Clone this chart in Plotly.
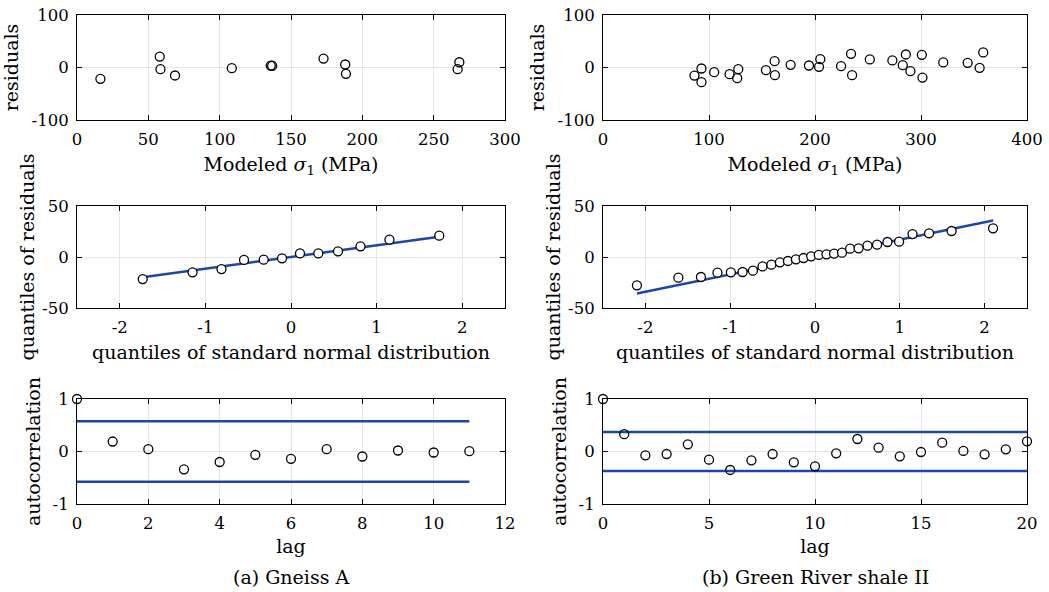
import plotly.graph_objects as go

FONT = "DejaVu Serif"
BLUE = "#1a47a8"

# ---------------- (a) Gneiss A ----------------
res_a_x = [16.4, 58.0, 58.5, 68.7, 108.5, 135.8, 136.8, 172.8, 188.0, 188.5, 266.8, 268.0]
res_a_y = [-21.5, 20.9, -3.2, -15.2, -1.3, 3.6, 3.3, 17.0, 5.7, -12.0, -3.2, 10.0]
qq_a_x = [-1.732, -1.150, -0.812, -0.549, -0.319, -0.105, 0.105, 0.319, 0.549, 0.812, 1.150, 1.732]
qq_a_y = [-21.6, -15.0, -11.8, -2.9, -2.6, -1.3, 3.6, 3.6, 5.6, 10.5, 17.0, 20.9]
qq_line_a_x = [-1.732, 1.732]
qq_line_a_y = [-19.8, 19.8]
lags_a = [0, 1, 2, 3, 4, 5, 6, 7, 8, 9, 10, 11]
acf_a = [1.0, 0.19, 0.044, -0.34, -0.20, -0.063, -0.14, 0.044, -0.095, 0.019, -0.019, 0.006]
acf_bound_a = 0.577

# ---------------- (b) Green River shale II ----------------
res_b_x = [86.3, 92.9, 92.9, 104.9, 119.4, 126.6, 127.6, 153.7, 161.9, 162.2, 177.0, 194.3, 203.8, 205.0,
           224.6, 234.0, 235.0, 251.7, 273.0, 282.8, 285.7, 290.0, 300.8, 301.4, 321.0, 344.0, 355.3, 358.7]
res_b_y = [-15.3, -1.9, -28.0, -8.9, -12.7, -20.4, -3.2, -5.1, 12.1, -14.6, 5.1, 3.8, 1.3, 15.9,
           2.5, 26.1, -14.6, 15.3, 13.4, 4.5, 24.8, -7.0, 24.2, -19.1, 9.6, 8.9, -0.6, 28.7]
qq_b_x = [-2.100, -1.611, -1.345, -1.150, -0.992, -0.854, -0.732, -0.619, -0.514, -0.414, -0.319, -0.225, -0.135, -0.045,
          0.045, 0.135, 0.225, 0.319, 0.414, 0.514, 0.619, 0.732, 0.854, 0.992, 1.150, 1.345, 1.611, 2.100]
qq_b_y = [-27.8, -20.3, -19.6, -15.4, -15.0, -14.7, -13.4, -9.2, -7.5, -5.2, -3.9, -2.3, -1.0, 0.7,
          2.0, 2.6, 3.3, 4.2, 8.2, 8.5, 11.1, 12.1, 14.7, 15.0, 22.5, 23.2, 25.5, 28.1]
qq_line_b_x = [-2.1, 2.1]
qq_line_b_y = [-35.8, 35.8]
lags_b = [0, 1, 2, 3, 4, 5, 6, 7, 8, 9, 10, 11, 12, 13, 14, 15, 16, 17, 18, 19, 20]
acf_b = [1.0, 0.33, -0.073, -0.048, 0.137, -0.156, -0.352, -0.168, -0.048, -0.206, -0.283,
         -0.035, 0.238, 0.073, -0.092, -0.01, 0.168, 0.01, -0.054, 0.041, 0.194]
acf_bound_b = 0.372

# tick definitions
res_a_xticks = [0, 50, 100, 150, 200, 250, 300]
res_b_xticks = [0, 100, 200, 300, 400]
res_yticks = [-100, 0, 100]
qq_xticks = [-2, -1, 0, 1, 2]
qq_yticks = [-50, 0, 50]
acf_a_xticks = [0, 2, 4, 6, 8, 10, 12]
acf_b_xticks = [0, 5, 10, 15, 20]
acf_yticks = [-1, 0, 1]

captions = ["(a) Gneiss A", "(b) Green River shale II"]

W, H = 1049, 592
TICK_SIZE = 16.5
TITLE_SIZE = 19

def px_x(a, b):
    return [a / W, b / W]
def px_y(top, bottom):
    return [(H - bottom) / H, (H - top) / H]

col_x = [px_x(77, 505), px_x(603, 1027)]
row_y = [px_y(15, 120), px_y(206, 308), px_y(399, 504)]

fig = go.Figure()

def marker(fill=False):
    return dict(symbol="circle" if fill else "circle-open", size=9,
                color="white" if fill else "black",
                line=dict(color="black", width=1.3))

fig.add_trace(go.Scatter(x=res_a_x, y=res_a_y, mode="markers", marker=marker(), xaxis="x", yaxis="y", cliponaxis=False))
fig.add_trace(go.Scatter(x=res_b_x, y=res_b_y, mode="markers", marker=marker(), xaxis="x2", yaxis="y2", cliponaxis=False))

fig.add_trace(go.Scatter(x=qq_line_a_x, y=qq_line_a_y, mode="lines", line=dict(color=BLUE, width=2.5), xaxis="x3", yaxis="y3"))
fig.add_trace(go.Scatter(x=qq_a_x, y=qq_a_y, mode="markers", marker=marker(True), xaxis="x3", yaxis="y3", cliponaxis=False))
fig.add_trace(go.Scatter(x=qq_line_b_x, y=qq_line_b_y, mode="lines", line=dict(color=BLUE, width=2.5), xaxis="x4", yaxis="y4"))
fig.add_trace(go.Scatter(x=qq_b_x, y=qq_b_y, mode="markers", marker=marker(True), xaxis="x4", yaxis="y4", cliponaxis=False))

for lags, acf, bound, xa, ya in [(lags_a, acf_a, acf_bound_a, "x5", "y5"), (lags_b, acf_b, acf_bound_b, "x6", "y6")]:
    for s in (1, -1):
        fig.add_trace(go.Scatter(x=[lags[0], lags[-1]], y=[s * bound, s * bound], mode="lines",
                                 line=dict(color=BLUE, width=2.5), xaxis=xa, yaxis=ya))
    fig.add_trace(go.Scatter(x=lags, y=acf, mode="markers", marker=marker(), xaxis=xa, yaxis=ya, cliponaxis=False))

def tick_text(vals):
    return [str(v) for v in vals]

def axis(domain, anchor, rng, ticks, title=None, standoff=None, ls=None):
    d = dict(domain=domain, anchor=anchor, range=rng, tickvals=ticks, ticktext=tick_text(ticks),
             showline=True, linecolor="black", linewidth=1, mirror="ticks",
             ticks="inside", ticklen=5, tickcolor="black", tickwidth=1,
             showgrid=True, gridcolor="#e6e6e6", gridwidth=1, zeroline=False, automargin=False,
             tickfont=dict(family=FONT, size=TICK_SIZE, color="black"))
    if ls is not None:
        d["ticklabelstandoff"] = ls
    if title:
        d["title"] = dict(text=title, font=dict(family=FONT, size=TITLE_SIZE, color="black"), standoff=standoff)
    return d

sig = "Modeled <i>σ</i><sub>1</sub> (MPa)"
qqx = "quantiles of standard normal distribution"

fig.update_layout(
    width=W, height=H, margin=dict(l=0, r=0, t=0, b=0, autoexpand=False),
    paper_bgcolor="white", plot_bgcolor="white", showlegend=False,
    font=dict(family=FONT, color="black"),
    xaxis=axis(col_x[0], "y", [0, 300], res_a_xticks, sig, 9, 4),
    yaxis=axis(row_y[0], "x", [-100, 100], res_yticks, "residuals", 7, 4),
    xaxis2=axis(col_x[1], "y2", [0, 400], res_b_xticks, sig, 9, 4),
    yaxis2=axis(row_y[0], "x2", [-100, 100], res_yticks, "residuals", 7, 4),
    xaxis3=axis(col_x[0], "y3", [-2.5, 2.5], qq_xticks, qqx, 9, 4),
    yaxis3=axis(row_y[1], "x3", [-50, 50], qq_yticks, "quantiles of residuals", 2, 4),
    xaxis4=axis(col_x[1], "y4", [-2.5, 2.5], qq_xticks, qqx, 9, 4),
    yaxis4=axis(row_y[1], "x4", [-50, 50], qq_yticks, "quantiles of residuals", 2, 4),
    xaxis5=axis(col_x[0], "y5", [0, 12], acf_a_xticks, "lag", 7, 4),
    yaxis5=axis(row_y[2], "x5", [-1, 1], acf_yticks, "autocorrelation", 6, 4),
    xaxis6=axis(col_x[1], "y6", [0, 20], acf_b_xticks, "lag", 7, 4),
    yaxis6=axis(row_y[2], "x6", [-1, 1], acf_yticks, "autocorrelation", 6, 4),
)

for i, cap in enumerate(captions):
    cx = (col_x[i][0] + col_x[i][1]) / 2
    fig.add_annotation(text=cap, x=cx, y=(H - 577) / H, xref="paper", yref="paper",
                       showarrow=False, xanchor="center", yanchor="middle",
                       font=dict(family=FONT, size=TITLE_SIZE, color="black"))

fig.write_html("out.html")
